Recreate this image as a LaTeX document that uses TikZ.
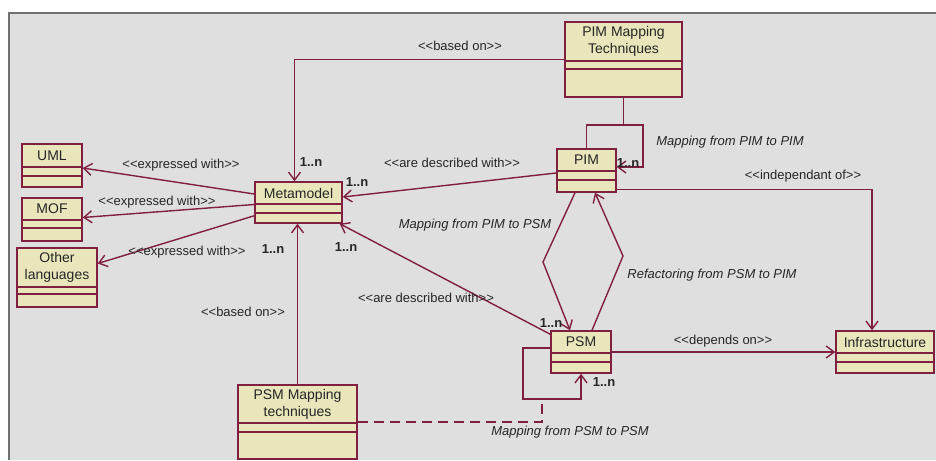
\documentclass[tikz,border=0pt]{standalone}
\usepackage{fontspec}
\setmainfont{Liberation Sans}
\usetikzlibrary{arrows.meta,fit}

\definecolor{classfill}{RGB}{232,230,186}
\definecolor{classedge}{RGB}{128,32,64}
\definecolor{canvas}{RGB}{223,223,223}
\definecolor{framegray}{RGB}{112,112,112}
\definecolor{textgray}{RGB}{38,38,38}

% UML class: id, left, top, right, bottom, 1st separator, 2nd separator, title
\newcommand{\umlclass}[8]{%
  \node[classbox, fit={(#2,#3) (#4,#5)}] (#1) {};
  \draw[compline] (#2,#6) -- (#4,#6) (#2,#7) -- (#4,#7);
  \node[classname] (#1-title) at ({(#2+#4)/2},{(#3+#6)/2}) {#8};
}
% stereotype text, kept as << >> (no guillemet ligature)
\newcommand{\stereo}[1]{<\kern0pt<#1>\kern0pt>}

\begin{document}
\begin{tikzpicture}[x=1pt, y=-1pt]

\tikzset{
  classbox/.style={draw=classedge, fill=classfill, line width=1.5pt, inner sep=0pt},
  compline/.style={draw=classedge, line width=1.5pt},
  classname/.style={text=textgray, align=center, inner sep=0pt, font=\fontsize{14}{17}\selectfont},
  assoc/.style={draw=classedge, line width=1.4pt},
  arr/.style={assoc, -{Straight Barb[length=8pt, width=12pt]}},
  lbl/.style={text=textgray, inner sep=1pt, font=\fontsize{13}{15}\selectfont},
  mapl/.style={lbl, font=\fontsize{13}{15}\selectfont\itshape},
  mult/.style={lbl, font=\fontsize{13}{15}\selectfont\bfseries}
}

% --- Fundo ---
\useasboundingbox (0,0) rectangle (936,460);
\fill[white] (0,0) rectangle (936,460);
\fill[canvas] (9,13) rectangle (936,460);
\draw[framegray, line width=2pt] (9,460) -- (9,13) -- (936,13);

% --- Classes ---
\umlclass{uml}{22}{144}{82}{187}{167}{176}{UML}
\umlclass{mof}{22}{198}{82}{241}{220}{228}{MOF}
\umlclass{other}{17}{248}{97}{307}{287}{294}{Other\\languages}
\umlclass{meta}{255}{182}{342}{223}{204}{213}{Metamodel}
\umlclass{pmt}{565}{22}{682}{97}{61}{69}{PIM Mapping\\Techniques}
\umlclass{pim}{557}{149}{616}{192}{171}{180}{PIM}
\umlclass{psm}{551}{331}{611}{373}{353}{362}{PSM}
\umlclass{psmmt}{238}{385}{357}{459}{423}{432}{PSM Mapping\\techniques}
\umlclass{infra}{836}{331}{934}{373}{353}{362}{Infrastructure}

% --- Pontos de apoio ---
\coordinate (pimloop) at (643,125);
\coordinate (psmloop) at (523,399);
\coordinate (psmattach) at (542,399);
\coordinate (kinkA) at (543,262);
\coordinate (kinkB) at (623,256);

% --- Associações ---
\draw[arr] (pmt.west) -| ([xshift=-4pt]meta.north);
\draw[arr] (pim.north) |- (pimloop) |- ([yshift=3.5pt]pim.east);
\draw[assoc] (pmt.south) -- (pmt.south |- pimloop);
\draw[arr] ([yshift=-2.5pt]pim.west) -- ([yshift=5.5pt]meta.east);

\draw[arr] ([yshift=8.5pt]meta.west) -- ([yshift=-2.5pt]uml.east);
\draw[arr] ([yshift=-2pt]meta.west) -- ([yshift=2pt]mof.east);
\draw[arr] ([yshift=8pt]meta.south west) -- ([yshift=14pt]other.east);

\draw[arr] (psmmt.north) -- (psmmt.north |- meta.south);
\draw[arr] ([yshift=-4pt]psm.north west) -- ([xshift=-3pt]meta.south east);

\draw[arr] ([xshift=-11.5pt]pim.south) -- (kinkA) -- ([xshift=-11pt]psm.north);
\draw[arr] ([xshift=11pt]psm.north) -- (kinkB) -- ([xshift=8.5pt]pim.south);

\draw[arr] ([yshift=3pt]pim.south east) -| ([xshift=-13pt]infra.north);
\draw[arr] (psm.east) -- (infra.west);

\draw[arr] ([yshift=4pt]psm.west) -| (psmloop) -| (psm.south);
\draw[assoc, dash pattern=on 10pt off 6pt] (psmmt.east) -| (psmattach);

% --- Rótulos ---
\node[lbl] (basedTop) at (460,46) {\stereo{based on}};
\node[lbl] (descrTop) at (452,163) {\stereo{are described with}};
\node[lbl] (exprUml) at (181,165) {\stereo{expressed with}};
\node[lbl] (exprMof) at (157,202) {\stereo{expressed with}};
\node[lbl] (exprOther) at (187,252) {\stereo{expressed with}};
\node[lbl] (indep) at (803,176) {\stereo{independant of}};
\node[lbl] (descrLow) at (426,298) {\stereo{are described with}};
\node[lbl] (basedLow) at (243,312) {\stereo{based on}};
\node[lbl] (depends) at (723,341) {\stereo{depends on}};

\node[mapl] (mapPimPim) at (730,142) {Mapping from PIM to PIM};
\node[mapl] (mapPimPsm) at (475,225) {Mapping from PIM to PSM};
\node[mapl] (refPsmPim) at (712,275) {Refactoring from PSM to PIM};
\node[mapl] (mapPsmPsm) at (570,432) {Mapping from PSM to PSM};

% --- Multiplicidades ---
\node[mult] (mMetaTop) at (311,162) {1..n};
\node[mult] (mMetaRight) at (357,182) {1..n};
\node[mult] (mMetaLow) at (273,249) {1..n};
\node[mult] (mMetaSE) at (346,247) {1..n};
\node[mult] (mPim) at (628,163) {1..n};
\node[mult] (mPsmTop) at (551,323) {1..n};
\node[mult] (mPsmLow) at (604,382) {1..n};

\end{tikzpicture}
\end{document}
